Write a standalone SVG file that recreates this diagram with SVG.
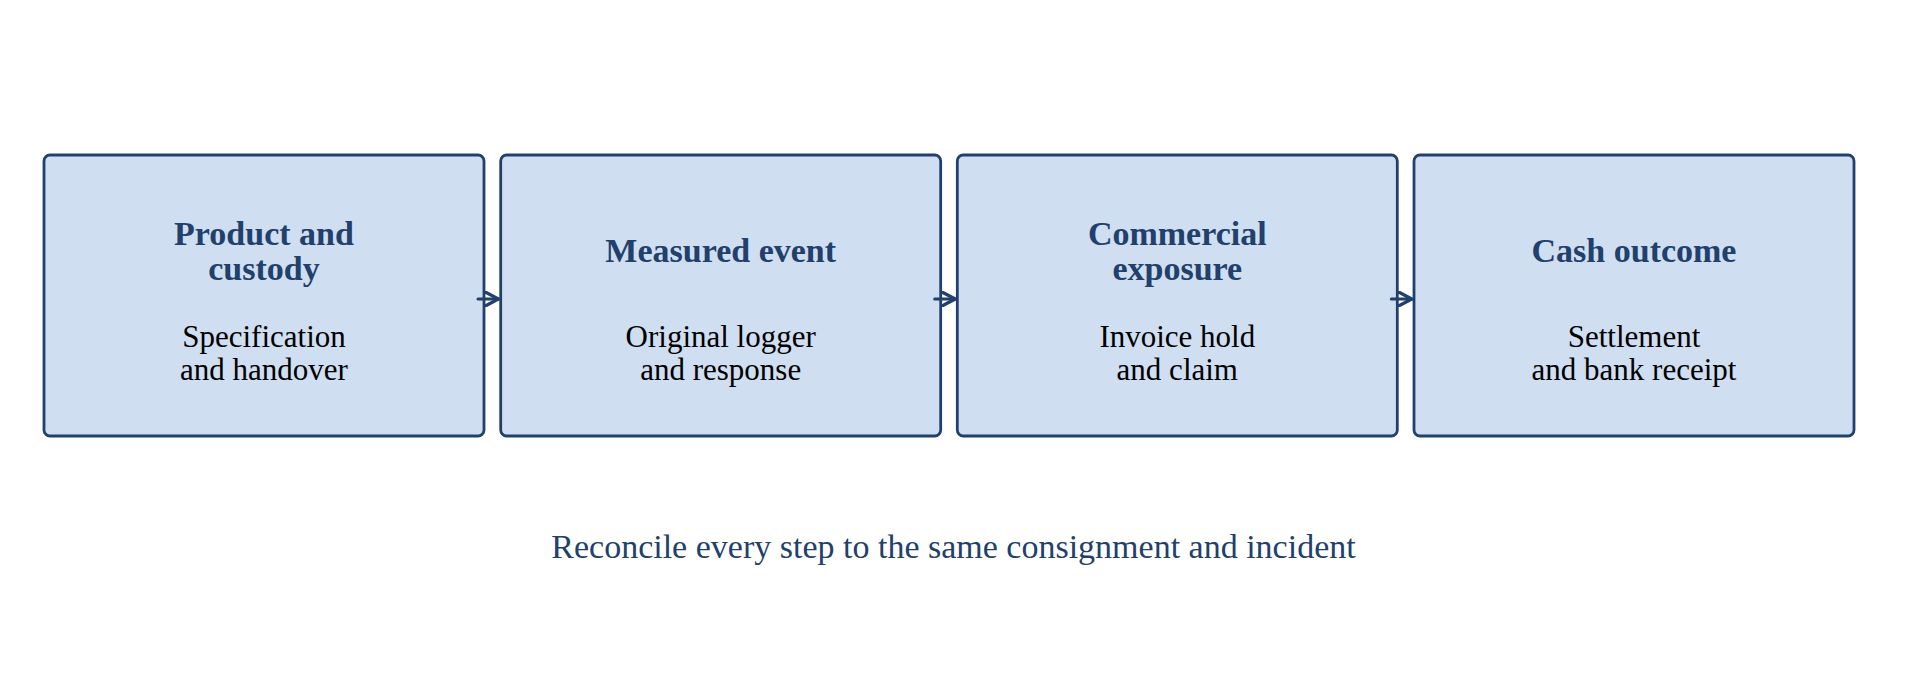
<svg xmlns="http://www.w3.org/2000/svg" width="1907" height="675" viewBox="0 0 1907 675">
<style>
.box{fill:#cfdef0;stroke:#21406b;stroke-width:2.8}
.title{font-family:"Liberation Serif","Times New Roman",serif;font-weight:bold;font-size:34px;fill:#21406b;text-anchor:middle}
.body{font-family:"Liberation Serif","Times New Roman",serif;font-size:31px;fill:#000;text-anchor:middle}
.foot{font-family:"Liberation Serif","Times New Roman",serif;font-size:34px;fill:#21406b;text-anchor:middle}
.conn{stroke:#21406b;stroke-width:3;fill:none;stroke-linecap:round;stroke-linejoin:round}
</style>
<defs>
<marker id="arr" viewBox="0 0 10 10" refX="9.3" refY="5" markerWidth="5.5" markerHeight="5.5" markerUnits="strokeWidth" orient="auto">
<path d="M1,0.6 L9.3,5 L1,9.4" fill="none" stroke="#21406b" stroke-width="2"/>
</marker>
</defs>
<rect width="1907" height="675" fill="#ffffff"/>
<g id="node-product">
<rect class="box" x="44" y="155" width="440" height="281" rx="6"/>
<text class="title" x="264" y="245">Product and</text>
<text class="title" x="264" y="280">custody</text>
<text class="body" x="264" y="347">Specification</text>
<text class="body" x="264" y="380">and handover</text>
</g>
<g id="node-measured">
<rect class="box" x="500.7" y="155" width="440" height="281" rx="6"/>
<text class="title" x="720.7" y="262">Measured event</text>
<text class="body" x="720.7" y="347">Original logger</text>
<text class="body" x="720.7" y="380">and response</text>
</g>
<g id="node-commercial">
<rect class="box" x="957.3" y="155" width="440" height="281" rx="6"/>
<text class="title" x="1177.3" y="245">Commercial</text>
<text class="title" x="1177.3" y="280">exposure</text>
<text class="body" x="1177.3" y="347">Invoice hold</text>
<text class="body" x="1177.3" y="380">and claim</text>
</g>
<g id="node-cash">
<rect class="box" x="1414" y="155" width="440" height="281" rx="6"/>
<text class="title" x="1634" y="262">Cash outcome</text>
<text class="body" x="1634" y="347">Settlement</text>
<text class="body" x="1634" y="380">and bank receipt</text>
</g>
<g id="connectors">
<line class="conn" x1="478" y1="299" x2="498.5" y2="299" marker-end="url(#arr)"/>
<line class="conn" x1="934.7" y1="299" x2="955.2" y2="299" marker-end="url(#arr)"/>
<line class="conn" x1="1391.3" y1="299" x2="1411.8" y2="299" marker-end="url(#arr)"/>
</g>
<text class="foot" x="953.5" y="558">Reconcile every step to the same consignment and incident</text>
</svg>
